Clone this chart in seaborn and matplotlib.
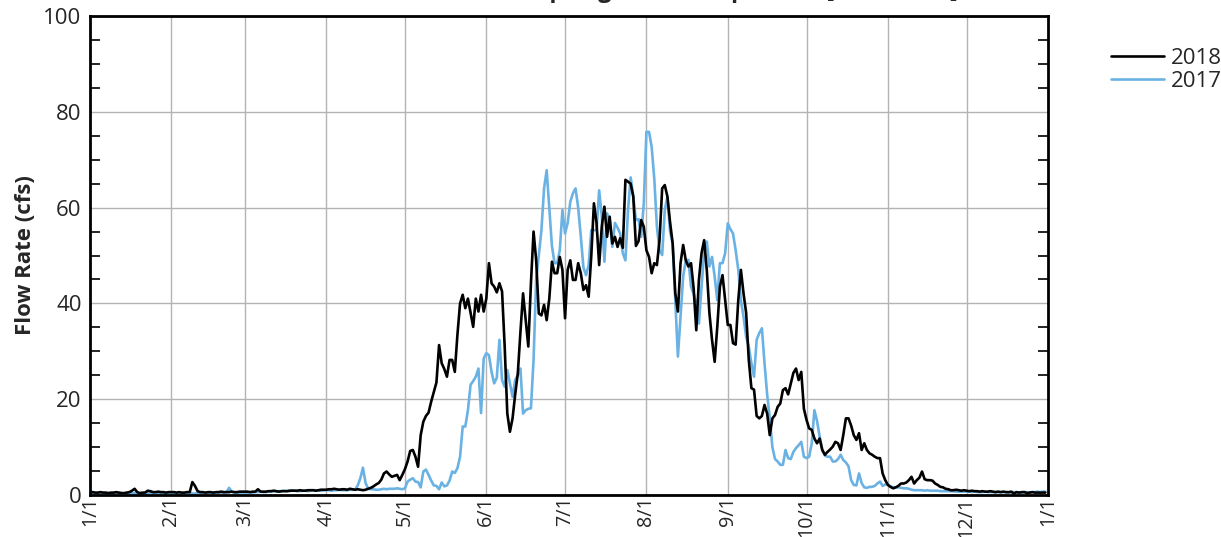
import numpy as np
import pandas as pd
import matplotlib.pyplot as plt
import seaborn as sns

# daily flow (cfs), Jan 1 .. Dec 31
flow_2018 = [
    # Jan
    0.5, 0.6, 0.5, 0.5, 0.6, 0.5, 0.5, 0.4, 0.5, 0.5, 0.6, 0.5, 0.4, 0.4, 0.5, 0.6, 0.9, 1.3, 0.6, 0.4,
    0.5, 0.5, 0.9, 0.8, 0.6, 0.6, 0.7, 0.6, 0.6, 0.5, 0.6,
    # Feb
    0.6, 0.6, 0.5, 0.6, 0.5, 0.5, 0.6, 0.6, 2.7, 1.9, 0.8, 0.6, 0.6, 0.5, 0.6, 0.6, 0.5, 0.6, 0.6, 0.7,
    0.6, 0.6, 0.6, 0.7, 0.6, 0.6, 0.7, 0.7,
    # Mar
    0.7, 0.7, 0.6, 0.7, 0.7, 1.2, 0.7, 0.7, 0.7, 0.8, 0.8, 0.9, 0.8, 0.7, 0.8, 0.8, 0.8, 0.9, 0.9, 0.9,
    0.9, 1.0, 0.9, 0.9, 1.0, 1.0, 1.0, 0.9, 1.0, 1.1, 1.1,
    # Apr
    1.1, 1.2, 1.2, 1.3, 1.2, 1.1, 1.2, 1.2, 1.1, 1.3, 1.2, 1.1, 1.2, 1.1, 1.0, 1.1, 1.3, 1.5, 1.8, 2.2,
    2.5, 3.2, 4.5, 4.9, 4.3, 3.8, 4.0, 4.2, 3.1, 4.2,
    # May
    5.4, 7.0, 9.2, 9.4, 8.0, 5.9, 12.5, 15.3, 16.5, 17.2, 19.5, 21.5, 23.5, 31.3, 27.5, 26.3, 24.7, 28.2, 28.2, 25.7,
    33.5, 40.0, 41.8, 39.0, 41.0, 38.0, 35.1, 41.0, 38.3, 41.8, 38.3,
    # Jun
    41.0, 48.4, 44.2, 43.5, 42.3, 44.2, 42.5, 31.0, 17.0, 13.2, 16.0, 21.0, 25.4, 34.0, 42.1, 36.5, 31.0, 44.2, 55.0, 49.0,
    37.9, 37.5, 39.7, 36.5, 41.0, 48.7, 46.3, 46.3, 49.7, 47.0,
    # Jul
    36.9, 47.0, 49.0, 44.9, 44.9, 48.4, 46.3, 42.8, 43.8, 41.4, 50.0, 60.9, 56.8, 48.0, 56.1, 60.2, 53.9, 58.1, 52.5, 53.9,
    51.8, 53.6, 51.6, 65.8, 65.4, 65.0, 62.3, 52.0, 53.0, 57.4, 56.0,
    # Aug
    51.1, 49.7, 46.3, 48.4, 48.0, 53.2, 64.0, 64.7, 62.3, 57.0, 52.5, 42.1, 38.3, 48.4, 52.2, 49.0, 47.7, 48.4, 43.1, 34.4,
    44.9, 50.5, 53.2, 47.0, 38.0, 32.4, 27.8, 35.1, 43.5, 45.9, 40.7,
    # Sep
    35.5, 35.5, 31.7, 31.4, 40.7, 47.0, 42.1, 38.0, 28.2, 22.3, 22.0, 16.5, 16.0, 16.5, 18.8, 17.0, 12.5, 16.0, 16.7, 18.4,
    19.1, 21.9, 22.3, 21.0, 23.3, 25.5, 26.4, 24.0, 25.7, 18.0,
    # Oct
    15.7, 13.9, 13.6, 11.8, 10.8, 11.8, 9.4, 8.4, 9.0, 9.5, 10.1, 11.1, 10.8, 9.4, 12.5, 16.0, 16.0, 14.5, 12.5, 11.5,
    12.9, 9.4, 10.8, 9.4, 8.7, 8.4, 8.0, 7.7, 7.7, 4.5, 3.1,
    # Nov
    2.1, 1.7, 1.4, 1.6, 1.9, 2.4, 2.4, 2.6, 3.1, 3.8, 2.4, 3.1, 3.6, 4.9, 3.3, 3.1, 3.1, 3.0, 2.4, 2.1,
    1.7, 1.6, 1.3, 1.2, 1.0, 1.0, 1.1, 1.0, 0.9, 1.0,
    # Dec
    0.9, 0.8, 0.9, 0.8, 0.8, 0.7, 0.8, 0.7, 0.7, 0.8, 0.7, 0.6, 0.7, 0.6, 0.7, 0.6, 0.6, 0.7, 0.3, 0.6,
    0.5, 0.6, 0.6, 0.4, 0.5, 0.6, 0.5, 0.5, 0.5, 0.5, 0.5,
]

flow_2017 = [
    # Jan
    0.4, 0.4, 0.4, 0.3, 0.3, 0.4, 0.4, 0.4, 0.3, 0.3, 0.4, 0.4, 0.4, 0.3, 0.3, 0.3, 0.4, 0.4, 0.4, 0.3,
    0.3, 0.3, 0.3, 0.4, 0.4, 0.4, 0.3, 0.3, 0.3, 0.3, 0.4,
    # Feb
    0.4, 0.4, 0.3, 0.3, 0.3, 0.4, 0.4, 0.4, 0.3, 0.3, 0.4, 0.5, 0.4, 0.4, 0.4, 0.4, 0.5, 0.5, 0.5, 0.5,
    0.5, 0.6, 1.5, 0.7, 0.5, 0.5, 0.5, 0.5,
    # Mar
    0.5, 0.5, 0.6, 0.5, 0.6, 0.6, 0.7, 0.6, 0.6, 0.7, 0.7, 0.8, 0.7, 0.8, 0.8, 0.9, 0.8, 0.8, 1.0, 0.9,
    0.8, 0.8, 0.9, 0.9, 0.8, 0.9, 1.0, 1.0, 0.9, 0.9, 1.0,
    # Apr
    1.0, 1.0, 0.9, 1.0, 1.0, 1.1, 1.0, 1.0, 1.0, 1.1, 1.1, 1.1, 2.0, 3.5, 5.7, 2.5, 1.3, 1.2, 1.2, 1.1,
    1.1, 1.2, 1.3, 1.2, 1.3, 1.3, 1.3, 1.4, 1.3, 1.2,
    # May
    1.4, 2.8, 3.2, 3.5, 2.8, 2.7, 1.6, 4.9, 5.3, 4.2, 3.0, 2.0, 1.9, 1.2, 2.6, 1.8, 2.0, 3.0, 4.9, 4.6,
    5.6, 8.0, 14.3, 14.3, 17.7, 23.0, 23.8, 24.7, 26.4, 17.1, 28.5,
    # Jun
    29.6, 29.2, 25.7, 23.3, 24.5, 32.4, 24.0, 22.6, 26.1, 23.3, 20.5, 24.0, 25.0, 26.4, 17.0, 17.7, 18.0, 18.1, 28.2, 45.0,
    50.0, 55.3, 64.0, 67.8, 60.0, 52.0, 48.4, 48.4, 51.1, 59.5,
    # Jul
    54.6, 56.8, 61.2, 63.0, 64.0, 60.0, 54.0, 47.5, 45.9, 48.0, 55.3, 55.3, 55.3, 63.6, 58.1, 48.7, 58.8, 57.4, 51.8, 56.8,
    55.8, 54.6, 50.5, 49.0, 59.5, 66.3, 62.3, 57.4, 57.6, 53.9, 60.9,
    # Aug
    75.8, 75.8, 72.7, 66.0, 56.0, 51.1, 50.1, 59.5, 62.3, 55.0, 52.5, 40.7, 28.9, 37.2, 45.6, 49.0, 49.1, 43.5, 42.0, 40.0,
    35.8, 43.5, 50.5, 52.9, 47.7, 49.7, 45.6, 40.7, 48.4, 48.4, 50.5,
    # Sep
    56.7, 55.5, 54.6, 51.1, 47.0, 40.7, 37.2, 33.0, 31.0, 27.5, 24.7, 32.4, 33.8, 34.8, 27.5, 21.0, 16.0, 10.0, 7.5, 7.0,
    6.3, 6.3, 9.4, 7.7, 7.5, 9.0, 9.8, 10.4, 11.1, 8.0,
    # Oct
    7.7, 8.0, 10.8, 17.7, 15.5, 12.2, 9.5, 8.2, 8.0, 8.0, 7.0, 7.0, 7.5, 8.4, 7.3, 6.8, 6.0, 3.1, 2.1, 2.0,
    4.5, 2.5, 1.6, 1.5, 1.7, 1.7, 1.9, 2.4, 2.8, 1.9, 2.2,
    # Nov
    2.2, 1.8, 1.6, 1.6, 1.6, 1.5, 1.4, 1.4, 1.3, 1.1, 1.0, 1.0, 1.0, 1.0, 0.9, 1.0, 0.9, 0.9, 0.9, 0.9,
    0.8, 0.8, 0.8, 0.8, 0.8, 0.8, 0.7, 0.7, 0.7, 0.7,
    # Dec
    0.7, 0.7, 0.6, 0.7, 0.6, 0.6, 0.6, 0.7, 0.6, 0.6, 0.6, 0.6, 0.6, 0.6, 0.6, 0.6, 0.5, 0.6, 0.6, 0.6,
    0.5, 0.5, 0.6, 0.6, 0.5, 0.6, 0.6, 0.7, 0.6, 0.7, 0.7,
]

month_labels = ["1/1", "2/1", "3/1", "4/1", "5/1", "6/1", "7/1", "8/1", "9/1", "10/1", "11/1", "12/1", "1/1"]
chart_title = "Mill Creek Headwaters Spring Flow Comparison [2017-2018]"

dates = pd.date_range("2018-01-01", "2018-12-31", freq="D")
df = pd.DataFrame({
    "day": dates.dayofyear - 1,
    "2018": flow_2018,
    "2017": flow_2017,
})

# month start positions (day of year), plus the next Jan 1
month_starts = list(pd.date_range("2018-01-01", "2018-12-01", freq="MS").dayofyear - 1) + [len(dates)]

sns.set_style("white")
plt.rcParams["font.family"] = ["Open Sans", "DejaVu Sans"]

fig = plt.figure(figsize=(12.21, 5.37), dpi=100)
ax = fig.add_axes([0.0737, 0.0782, 0.7846, 0.892])

sns.lineplot(data=df, x="day", y="2017", ax=ax, color="#6AB2E3", linewidth=1.9, label="2017")
sns.lineplot(data=df, x="day", y="2018", ax=ax, color="black", linewidth=1.9, label="2018")

ax.set_xlim(0, len(dates))
ax.set_ylim(0, 100)
ax.set_xticks(month_starts)
ax.set_xticklabels(month_labels, rotation=90, fontsize=14.2)
ax.set_yticks(np.arange(0, 101, 20))
ax.set_yticks(np.arange(0, 101, 5), minor=True)
ax.tick_params(axis="y", which="major", labelsize=16, length=0, pad=6)
ax.tick_params(axis="y", which="minor", direction="in", length=7, width=1.2, color="black", left=True, right=True)
ax.tick_params(axis="x", which="major", length=0, pad=1)
ax.grid(True, which="major", color="#b3b3b3", linewidth=1.0)
ax.set_axisbelow(True)

for s in ax.spines.values():
    s.set_visible(True)
    s.set_color("black")
    s.set_linewidth(2.0)

ax.set_xlabel("")
ax.set_ylabel("Flow Rate (cfs)", fontsize=16, fontweight="bold", labelpad=5)

h = {l.get_label(): l for l in ax.get_lines()}
ax.legend(handles=[h["2018"], h["2017"]], loc="upper left", bbox_to_anchor=(1.045, 0.975),
          frameon=False, fontsize=16, handlelength=2.4, handletextpad=0.3, labelspacing=0.1)

# title sits mostly above the top edge, as in the original
fig.text(0.5, 1.006, chart_title, ha="center", va="baseline", fontsize=17, fontweight="bold")

fig.savefig("out.png", dpi=100)
